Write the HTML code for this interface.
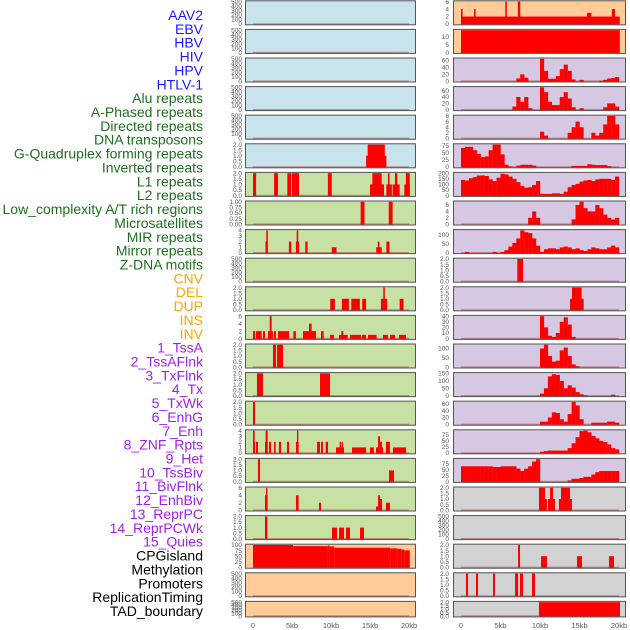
<!DOCTYPE html>
<html><head><meta charset="utf-8"><style>
html,body{margin:0;padding:0;background:#fff;}
svg{display:block;font-family:"Liberation Sans",sans-serif;}
</style></head><body>
<svg id="chart" width="630" height="630" viewBox="0 0 630 630"></svg>
<script>
const labels=["AAV2","EBV","HBV","HIV","HPV","HTLV-1","Alu repeats","A-Phased repeats","Directed repeats","DNA transposons","G-Quadruplex forming repeats","Inverted repeats","L1 repeats","L2 repeats","Low_complexity A/T rich regions","Microsatellites","MIR repeats","Mirror repeats","Z-DNA motifs","CNV","DEL","DUP","INS","INV","1_TssA","2_TssAFlnk","3_TxFlnk","4_Tx","5_TxWk","6_EnhG","7_Enh","8_ZNF_Rpts","9_Het","10_TssBiv","11_BivFlnk","12_EnhBiv","13_ReprPC","14_ReprPCWk","15_Quies","CPGisland","Methylation","Promoters","ReplicationTiming","TAD_boundary"];
const xTicks=[0,5,10,15,20];
const xTickLabels=["0","5kb","10kb","15kb","20kb"];
const T500=[0,100,200,300,400,500], T2=[0,0.5,1,1.5,2], T1=[0,0.25,0.5,0.75,1], T4=[0,1,2,3,4], T6=[0,2,4,6];
// left column segments [startKb,endKb,value]
const L6=[[14.5,17.1,1],[14.7,16.9,2]];
const L7=[[0,0.4,2],[2.7,3.2,2],[4.4,4.9,2],[5.0,5.9,2],[9.6,10.1,2],[15.0,16.8,1],[15.3,16.5,2],[17.1,17.8,1],[17.3,17.5,2],[17.9,18.8,1],[18.2,18.5,2],[19.4,20.1,1],[19.6,20.1,2]];
const L8=[[13.8,14.3,1],[17.4,17.9,1]];
const L9=[[1.6,1.9,2],[1.7,1.9,4],[4.6,4.9,2],[5.5,5.9,2],[5.6,5.8,4],[6.7,7.0,2],[10.1,10.7,1],[15.8,16.5,1],[16.0,16.2,2],[17.1,17.5,2]];
const L11=[[9.9,10.5,1],[11.4,12.3,1],[12.6,13.7,1],[14.0,14.5,1],[16.4,17.2,1],[16.7,16.9,2],[18.8,19.3,1]];
const L12=[[0,0.26,2],[0.38,1.11,2],[1.28,1.54,2],[1.92,2.56,2],[2.14,2.39,6],[2.69,2.95,2],[3.2,4.62,2],[5.17,5.5,2],[6.41,8.08,2],[7.18,7.52,4],[8.72,9.06,2],[9.87,10.38,1],[11.03,12.14,1],[11.32,11.58,2],[12.44,13.85,1],[13.97,14.49,1],[14.74,15.85,1],[16.67,17.31,1],[17.56,18.21,1],[18.72,19.62,1]];
const L13=[[2.56,2.95,2],[3.08,3.85,2]];
const L14=[[0.51,1.28,2],[8.59,9.87,2]];
const L15=[[0,0.26,2]];
const L16=[[0,0.26,2],[0,0.21,4],[0.38,0.64,2],[1.54,1.88,2],[1.62,1.88,4],[2.05,2.31,2],[2.69,2.9,2],[3.33,3.59,2],[4.36,4.62,2],[5.51,5.85,2],[5.64,5.81,4],[8.21,8.59,2],[8.72,8.97,2],[9.32,9.62,2],[10.64,11.67,1],[11.11,11.28,2],[11.37,11.54,2],[12.69,14.49,1],[15.0,15.5,1],[15.77,16.67,1],[16.03,16.28,3],[16.2,16.54,2],[17.05,17.56,2],[17.95,19.62,1]];
const L17=[[0.64,0.9,2],[17.44,18.08,1]];
const L18=[[1.54,1.88,4],[1.67,1.84,6],[5.51,5.85,4],[8.46,8.72,2],[15.77,16.03,1],[16.03,16.28,4],[16.15,16.54,3],[17.05,17.56,2]];
const L19=[[1.54,1.84,2],[10.13,10.77,1],[11.03,11.67,1],[11.92,12.44,1],[13.72,14.23,1]];
const L20=[[0,5.13,100],[5.13,9.6,95],[9.6,9.8,98],[9.8,10.4,94],[10.4,17.6,88],[17.6,18.5,85],[18.5,19.0,83],[19.0,19.4,80],[19.4,20.1,76]];
// right column: segments and 0.5kb-bin profiles (40 bins, 0-20kb)
const R1=[[0,20.1,2],[0,0.2,4],[1.65,1.85,4],[5.6,5.8,6],[7.2,7.5,6],[15.95,16.5,3],[19.1,19.5,4]];
const R2=[[0,20.1,14]];
const R3=[0,0,0,0,0,0,0,0,0,0,0,0,0,0,8,20,10,0,0,0,65,30,7,7,15,35,48,30,5,0,4,0,0,0,0,1,4,8,9,12];
const R4=[0,0,0,0,0,0,0,0,0,0,0,0,0,10,40,25,40,5,0,0,70,55,25,15,15,40,55,35,8,0,5,0,0,0,0,0,8,20,20,10];
const R5=[0,0,0,0,0,0,0,0,0,0,0,0,0,0,0,0,0,0,0,0,2.4,1,0,0,0,0,0,2,4,6,4,0,0,2,1,2,5,8,8,5];
const R6=[68,72,72,60,47,35,38,60,80,80,45,8,2,0,5,8,8,8,5,0,0,0,0,0,0,0,0,0,4,4,4,4,10,8,7,7,7,3,0,0];
const R7=[140,135,155,165,180,180,175,145,130,160,195,190,170,150,120,85,70,75,95,130,15,15,15,20,20,15,35,75,95,105,125,135,140,130,145,150,150,150,140,170];
const R8=[0,0,0,0,0,0,0,0,0,0,0,0,0,0,0,0,0,2,4,2,0,0,0,0,0,0,0,0,1.5,6,7,5,4,4,6,5,3,2,1.5,2];
const R9=[0,5,0,0,0,0,0,0,5,0,5,15,35,55,80,125,115,110,80,40,5,20,25,25,20,30,35,30,20,25,15,10,20,30,25,20,20,30,40,30];
const R10=[[7.13,7.85,2]];
const R11=[[13.8,15.53,1],[14.05,15.27,2]];
const R12=[0,0,0,0,0,0,0,0,0,0,0,0,0,0,0,0,0,0,0,0,40,20,5,3,10,30,38,25,3,0,0,0,0,0,0,0,0,0,0,0];
const R13=[0,0,0,0,0,0,0,0,0,0,0,0,0,0,0,0,0,0,0,0,100,120,60,30,35,90,105,60,15,5,0,0,0,0,0,0,0,0,0,0];
const R14=[0,0,0,0,0,0,0,0,0,0,0,0,0,0,0,0,0,0,0,0,15,50,130,145,140,100,50,70,55,25,10,3,0,0,0,0,0,0,8,0];
const R15=[0,0,0,0,0,0,0,0,0,0,0,0,0,0,0,0,0,0,0,0,8,8,20,35,33,15,8,30,65,55,15,0,0,5,5,5,5,8,8,5];
const R16=[0,0,0,0,0,0,0,0,0,0,0,0,0,0,0,0,0,0,0,0,5,8,10,10,10,10,10,20,40,65,90,92,85,70,60,50,45,35,20,15];
const R17=[65,65,65,65,65,65,65,65,62,62,65,65,65,65,55,45,55,65,85,95,0,0,0,0,0,0,0,5,12,12,15,20,20,30,40,45,45,45,45,45];
const R18=[[9.87,10.63,2],[10.63,10.88,1],[11.0,11.27,1],[11.27,11.65,2],[11.65,11.9,1],[12.4,12.66,1],[12.66,13.8,2],[13.8,14.05,1]];
const R20=[[7.22,7.47,2],[10.13,10.88,1],[14.68,15.32,1],[18.73,19.37,1]];
const R21=[[0.63,0.89,2],[1.9,2.15,2],[4.05,4.3,2],[6.84,7.22,2],[7.47,7.85,2],[8.99,9.37,2]];
const R22=[[9.87,20.13,2]];

const BLUE="#c8e3eb",GREEN="#c7e1a5",ORANGE="#ffcc99",LAV="#d6c8e2",GREY="#d2d2d2";
const leftPanels=[
 {bg:BLUE,t:T500,d:[]},{bg:BLUE,t:T500,d:[]},{bg:BLUE,t:T500,d:[]},{bg:BLUE,t:T500,d:[]},{bg:BLUE,t:T500,d:[]},
 {bg:BLUE,t:T2,d:L6},{bg:GREEN,t:T2,d:L7},{bg:GREEN,t:T1,d:L8,f:2},{bg:GREEN,t:T4,d:L9},{bg:GREEN,t:T500,d:[]},
 {bg:GREEN,t:T2,d:L11},{bg:GREEN,t:T6,d:L12},{bg:GREEN,t:T2,d:L13},{bg:GREEN,t:T2,d:L14},{bg:GREEN,t:T2,d:L15},
 {bg:GREEN,t:T4,d:L16},{bg:GREEN,t:T2,d:L17},{bg:GREEN,t:T6,d:L18},{bg:GREEN,t:T2,d:L19},{bg:ORANGE,t:[0,25,50,75,100],d:L20},
 {bg:ORANGE,t:T500,d:[]},{bg:ORANGE,t:T500,d:[]}];
const rightPanels=[
 {bg:ORANGE,t:[0,2,4,6],d:R1},{bg:ORANGE,t:[0,5,10],d:R2},{bg:LAV,t:[0,20,40,60],b:R3},{bg:LAV,t:[0,20,40,60],b:R4},{bg:LAV,t:[0,2,4,6,8],b:R5},
 {bg:LAV,t:[0,25,50,75],b:R6},{bg:LAV,t:[0,50,100,150,200],b:R7},{bg:LAV,t:[0,2,4,6],b:R8},{bg:LAV,t:[0,50,100],b:R9},{bg:LAV,t:T2,d:R10},
 {bg:LAV,t:T2,d:R11},{bg:LAV,t:[0,10,20,30,40],b:R12},{bg:LAV,t:[0,50,100],b:R13},{bg:LAV,t:[0,50,100,150],b:R14},{bg:LAV,t:[0,20,40,60],b:R15},
 {bg:LAV,t:[0,25,50,75],b:R16},{bg:LAV,t:[0,25,50,75],b:R17},{bg:GREY,t:T2,d:R18},{bg:GREY,t:T500,d:[]},{bg:GREY,t:T2,d:R20},
 {bg:GREY,t:T2,d:R21},{bg:GREY,t:T2,d:R22}];

const NS="http://www.w3.org/2000/svg";
const svg=document.getElementById('chart');
function mk(tag,attrs,parent){const e=document.createElementNS(NS,tag);for(const k in attrs)e.setAttribute(k,attrs[k]);(parent||svg).appendChild(e);return e;}
function labelColor(i){if(i<6)return"#1a1aff";if(i<19)return"#1f6f1f";if(i<24)return"#ffa500";if(i<39)return"#a020f0";return"#000";}
labels.forEach((s,i)=>{
 const t=mk('text',{x:203,y:(20+13.86*i).toFixed(1),'text-anchor':'end','font-size':'14',fill:labelColor(i)});
 
 
 t.textContent=s;
});
function xScale(col,kb){return col===0?253+kb*7.8:461+kb*7.9;}
function drawPanel(p,col,r){
 const x0=col===0?245:453, w=col===0?171:173;
 const top=0.3+28.6*r, h=r===21?16.5:25;
 const g=mk('g',{});
 
 
 mk('rect',{x:x0,y:top,width:w,height:h,fill:p.bg},g);
 let vmax=p.t[p.t.length-1];
 if(p.d)p.d.forEach(s=>{if(s[2]>vmax)vmax=s[2];});
 if(p.b)p.b.forEach(v=>{if(v>vmax)vmax=v;});
 const yb=top+h-1.3, yt=top+1.3;
 const y=v=>yb-(v/vmax)*(yb-yt);
 mk('line',{x1:xScale(col,0),x2:xScale(col,20),y1:yb,y2:yb,stroke:'rgba(170,40,40,0.45)','stroke-width':1.6},g);
 if(p.d)p.d.forEach(s=>{
  const rc=mk('rect',{x:xScale(col,s[0]),y:y(s[2]),width:Math.max(0.8,xScale(col,s[1])-xScale(col,s[0])),height:yb-y(s[2])+0.3,fill:'#ff0000'},g);
  
  
 });
 if(p.b)p.b.forEach((v,k)=>{
  if(v<=0)return;
  const rc=mk('rect',{x:xScale(col,k*0.5),y:y(v),width:xScale(col,k*0.5+0.5)-xScale(col,k*0.5)+0.2,height:yb-y(v)+0.3,fill:'#ff0000'},g);
  
  
 });
 mk('rect',{x:x0+0.5,y:top+0.5,width:w-1,height:h-1,fill:'none',stroke:'#555','stroke-width':1},g);
 const tx=col===0?242:449;
 p.t.forEach(v=>{
  const lab=p.f?v.toFixed(2):(p.t===T2?v.toFixed(1):String(v));
  const tt=mk('text',{x:tx,y:(y(v)+2.2).toFixed(1),'text-anchor':'end','font-size':'6.5',fill:'#555'},g);
  
  
  tt.textContent=lab;
 });
}
leftPanels.forEach((p,r)=>drawPanel(p,0,r));
rightPanels.forEach((p,r)=>drawPanel(p,1,r));
[0,1].forEach(col=>{
 xTicks.forEach((v,i)=>{
  const t=mk('text',{x:xScale(col,v),y:628,'text-anchor':'middle','font-size':'7.5',fill:'#555'});
  
  
  t.textContent=xTickLabels[i];
 });
});
</script>
</body></html>
